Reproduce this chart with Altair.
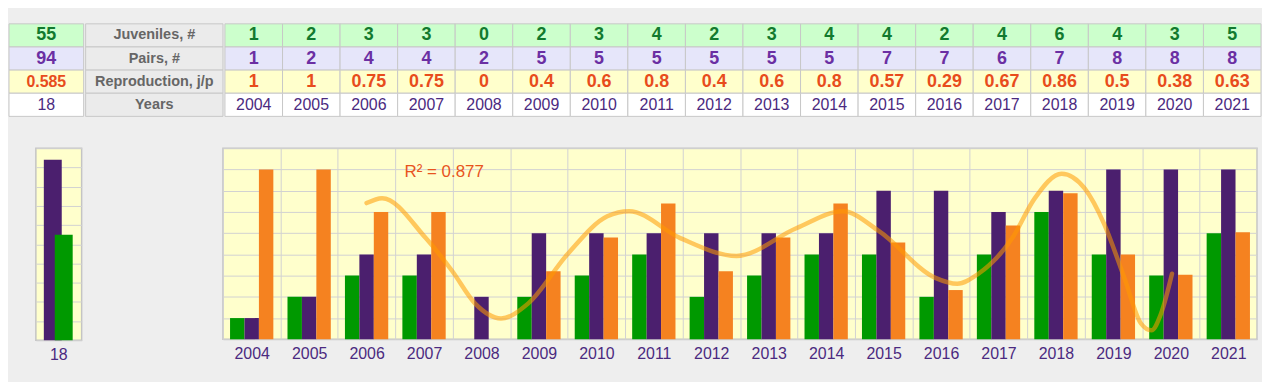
import altair as alt
import pandas as pd

FONT = "Liberation Sans"

# ---------------- data ----------------
years = list(range(2004, 2022))
juveniles = [1, 2, 3, 3, 0, 2, 3, 4, 2, 3, 4, 4, 2, 4, 6, 4, 3, 5]
pairs = [1, 2, 4, 4, 2, 5, 5, 5, 5, 5, 5, 7, 7, 6, 7, 8, 8, 8]
repro_labels = ["1", "1", "0.75", "0.75", "0", "0.4", "0.6", "0.8", "0.4",
                "0.6", "0.8", "0.57", "0.29", "0.67", "0.86", "0.5", "0.38", "0.63"]
repro = [float(v) for v in repro_labels]

row_keys = ["juv", "pair", "repro", "year"]
row_names = ["Juveniles, #", "Pairs, #", "Reproduction, j/p", "Years"]
totals = ["55", "94", "0.585", "18"]
total_values = {"Pairs": 94, "Juveniles": 55}
years_count = "18"

# trend curve (year, reproduction)
curve_x = [2006.0, 2006.27, 2007.03, 2007.49, 2007.89, 2008.34, 2008.81, 2009.5,
           2010.19, 2010.57, 2011.46, 2012.44, 2013.48, 2014.29, 2014.92, 2015.9,
           2016.28, 2016.65, 2017.24, 2017.63, 2018.1, 2018.5, 2018.84, 2019.19,
           2019.48, 2019.66, 2019.83, 2020.02]
curve_y = [0.802, 0.831, 0.596, 0.402, 0.210, 0.123, 0.210, 0.502,
           0.724, 0.754, 0.596, 0.491, 0.654, 0.754, 0.637, 0.362,
           0.327, 0.386, 0.596, 0.830, 0.975, 0.888, 0.678, 0.362,
           0.093, 0.053, 0.152, 0.386]
r2_text = "R\u00b2 = 0.877"
r2_pos = (2006.66, 0.985)

fill_colors = ["#ccffcc", "#e6e6fa", "#ffffcc", "#ffffff"]
text_colors = ["#127a2e", "#6b2fa3", "#e84c1c", "#4b2a80"]
GREEN, PURPLE, ORANGE = "#009900", "#4b1f6e", "#f58220"
GRID = "#d2d2d2"
LABEL_PURPLE = "#4b2a80"

# ---------------- table ----------------
def y_rows():
    return alt.Y("key:N", axis=None, sort=row_keys,
                 scale=alt.Scale(domain=row_keys, paddingInner=0, paddingOuter=0))

def x_cols(order):
    return alt.X("col:N", axis=None, sort=order,
                 scale=alt.Scale(domain=order, paddingInner=0, paddingOuter=0))

def value_block(df, order, width, repro_size=18):
    base = alt.Chart(df).encode(x=x_cols(order), y=y_rows())
    rect = base.mark_rect(stroke="#c8c8c8", strokeWidth=1).encode(
        fill=alt.Fill("key:N", scale=alt.Scale(domain=row_keys, range=fill_colors), legend=None))
    tcolor = alt.Color("key:N", scale=alt.Scale(domain=row_keys, range=text_colors), legend=None)
    bold = base.transform_filter(
        (alt.datum.key == "juv") | (alt.datum.key == "pair")).mark_text(
        fontWeight="bold", fontSize=18, font=FONT, baseline="middle").encode(
        text="text:N", color=tcolor)
    bold_r = base.transform_filter(alt.datum.key == "repro").mark_text(
        fontWeight="bold", fontSize=repro_size, font=FONT, baseline="middle").encode(
        text="text:N", color=tcolor)
    normal = base.transform_filter(alt.datum.key == "year").mark_text(
        fontSize=16, font=FONT, baseline="middle", color=LABEL_PURPLE).encode(text="text:N")
    return alt.layer(rect, bold, bold_r, normal).properties(
        width=width, height=93, view=alt.ViewBackground(stroke="transparent"))

tot_df = pd.DataFrame({"key": row_keys, "col": ["t"] * 4, "text": totals})
tot_block = value_block(tot_df, ["t"], 75, repro_size=16)

lab_df = pd.DataFrame({"key": row_keys, "col": ["l"] * 4, "text": row_names})
lab_base = alt.Chart(lab_df).encode(x=x_cols(["l"]), y=y_rows())
lab_block = alt.layer(
    lab_base.mark_rect(stroke="#c8c8c8", strokeWidth=1, fill="#ebebeb"),
    lab_base.mark_text(fontWeight="bold", fontSize=14.5, font=FONT, color="#666666",
                       baseline="middle").encode(text="text:N"),
).properties(width=138, height=93, view=alt.ViewBackground(stroke="transparent"))

cell_rows = []
for i, y in enumerate(years):
    vals = [str(juveniles[i]), str(pairs[i]), repro_labels[i], str(y)]
    for k, v in zip(row_keys, vals):
        cell_rows.append({"key": k, "col": str(y), "text": v})
cells_df = pd.DataFrame(cell_rows)
year_block = value_block(cells_df, [str(y) for y in years], 1041)

table = alt.hconcat(tot_block, lab_block, year_block, spacing=0)

# ---------------- small total chart ----------------
small_df = pd.DataFrame({"cat": [years_count] * 2,
                         "series": list(total_values.keys()),
                         "value": list(total_values.values())})
sx = alt.X("cat:N", scale=alt.Scale(paddingInner=0, paddingOuter=0),
           axis=alt.Axis(title=None, labelAngle=0, ticks=False, domain=False, grid=False,
                         labelColor=LABEL_PURPLE, labelFontSize=16, labelFont=FONT,
                         labelPadding=6))
sy = alt.Y("value:Q", scale=alt.Scale(domain=[0, 100], nice=False),
           axis=alt.Axis(title=None, labels=False, ticks=False, domain=False,
                         values=list(range(0, 101, 10)), gridColor=GRID))
small_base = alt.Chart(small_df).encode(x=sx, y=sy)
small = alt.layer(
    small_base.transform_filter(alt.datum.series == "Pairs").mark_bar(size=18, xOffset=-6, color=PURPLE),
    small_base.transform_filter(alt.datum.series == "Juveniles").mark_bar(size=18, xOffset=5, color=GREEN),
).properties(width=46, height=193,
             view=alt.ViewBackground(fill="#ffffcc", stroke="#c4c4c4", strokeWidth=1.5))

# ---------------- main chart ----------------
jp_rows = []
for i, y in enumerate(years):
    jp_rows.append({"year": y, "series": "J", "value": juveniles[i]})
    jp_rows.append({"year": y, "series": "P", "value": pairs[i]})
jp_df = pd.DataFrame(jp_rows)
r_df = pd.DataFrame({"year": years, "series": ["R"] * len(years), "value": repro})
curve_df = pd.DataFrame({"x": curve_x, "y": curve_y})
r2_df = pd.DataFrame({"x": [r2_pos[0]], "y": [r2_pos[1]], "t": [r2_text]})

offset_scale = alt.Scale(domain=["J", "P", "R"], paddingInner=0, paddingOuter=0.49)
band_scale = alt.Scale(paddingInner=0, paddingOuter=0)

bars_jp = alt.Chart(jp_df).mark_bar().encode(
    x=alt.X("year:O", scale=band_scale,
            axis=alt.Axis(title=None, labelAngle=0, tickBand="extent", grid=True,
                          gridColor=GRID, ticks=False, domain=False,
                          labelColor=LABEL_PURPLE, labelFontSize=16, labelFont=FONT,
                          labelPadding=6)),
    xOffset=alt.XOffset("series:N", scale=offset_scale),
    y=alt.Y("value:Q", scale=alt.Scale(domain=[0, 9], nice=False),
            axis=alt.Axis(title=None, labels=False, ticks=False, domain=False,
                          values=list(range(0, 10)), gridColor=GRID)),
    color=alt.Color("series:N", scale=alt.Scale(domain=["J", "P"], range=[GREEN, PURPLE]),
                    legend=None),
)
bars_r = alt.Chart(r_df).mark_bar(color=ORANGE).encode(
    x=alt.X("year:O", scale=band_scale, axis=None),
    xOffset=alt.XOffset("series:N", scale=offset_scale),
    y=alt.Y("value:Q", scale=alt.Scale(domain=[0, 1.125], nice=False), axis=None),
)
cx = alt.Scale(domain=[2003.5, 2021.5], nice=False, zero=False)
cy = alt.Scale(domain=[0, 1.125], nice=False)
curve = alt.Chart(curve_df).mark_line(
    color="#ff9a00", strokeWidth=4.5, strokeOpacity=0.55, interpolate="monotone",
    strokeCap="round").encode(
    x=alt.X("x:Q", scale=cx, axis=None),
    y=alt.Y("y:Q", scale=cy, axis=None),
)
r2 = alt.Chart(r2_df).mark_text(align="left", baseline="middle", fontSize=17, font=FONT,
                                color="#e8541e").encode(
    x=alt.X("x:Q", scale=cx, axis=None),
    y=alt.Y("y:Q", scale=cy, axis=None),
    text="t:N",
)
main = alt.layer(bars_jp, bars_r, curve, r2).resolve_scale(
    x="independent", y="independent", xOffset="independent"
).properties(width=1039, height=192,
             view=alt.ViewBackground(fill="#ffffcc", stroke="#c4c4c4", strokeWidth=1.5))

def spacer(w):
    return alt.Chart(pd.DataFrame({"v": [0]})).mark_point(opacity=0).properties(
        width=w, height=192, view=alt.ViewBackground(stroke="transparent"))

bottom = alt.hconcat(spacer(27), small, spacer(142), main, spacing=0, bounds="flush")

chart = alt.vconcat(table, bottom, spacing=30).resolve_scale(
    color="independent", fill="independent"
).properties(
    padding={"left": 0, "top": 14, "right": 0, "bottom": 18},
    background="#eeeeee",
).configure_axis(labelFont=FONT).configure_text(font=FONT)

chart.save("out.html", embed_options={"renderer": "svg", "actions": False})
